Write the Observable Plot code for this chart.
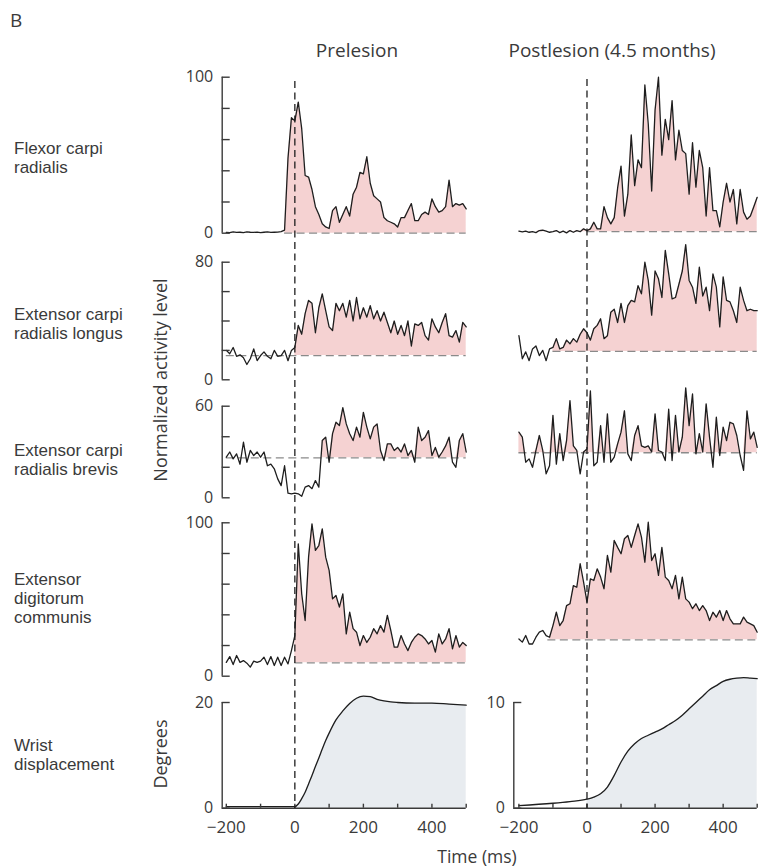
<!DOCTYPE html>
<html><head><meta charset="utf-8">
<script src="https://cdn.jsdelivr.net/npm/d3@7"></script>
<script src="https://cdn.jsdelivr.net/npm/@observablehq/plot@0.6"></script>
<style>
html,body{margin:0;padding:0;background:#fff;}
#fig{position:relative;width:763px;height:868px;overflow:hidden;background:#fff;}
#fig svg{position:absolute;}
.rowlab{position:absolute;left:14px;font-family:'Liberation Sans',Arial,sans-serif;font-weight:400;font-size:17px;line-height:19px;color:#3a3a3a;white-space:nowrap;}
</style></head>
<body><div id="fig"></div>
<script>
// ---------- DATA ----------
const emgTime = d3.range(-200, 501, 10); // sample times (ms)

const fcrPre = [0.5,0.3,0.8,0.5,0.6,0.4,0.8,0.6,0.5,0.7,0.4,0.6,0.8,0.5,0.6,0.7,1.0,2,48,74,
  72,84,67,37,36,28,17,12,6,4,3,14.5,17,7,12,17,11,25,29.5,39,38,49,32,24,22,20,10,8,7,6,4,10,10,14.5,19,8,8,12,13.5,12,22,17,13.5,14.5,17,34,17,19,18,19,15.6];
const fcrPost = [1.3,0.9,1.3,0.6,1,0.4,1.7,1.9,1.3,0.6,1,1.7,0.4,1.3,0.2,1.7,0.6,1.7,1,2.8,
  1.7,2.8,7,2.8,2.8,17,10,6,10,29,43,11,25,63,30.5,47,42,95,70,27,79,100,50,73,60,85,47,66,53,51,25,58,29.5,53,42,11,42,14.5,14.5,4,20,32,20,28,6,28,13.5,9,11,17,23];
const ecrlPre = [20,17.7,22,16,17,15,10.4,14.3,21,13,16.5,19,16,14.3,20,16,16.5,20,13,20,
  22,37,31,45,54,52,32,49,58.5,47,36,33.5,52,47,52,42.6,54,40,56,41.5,49,42.6,50.5,41.5,47,40,46,39,32,40,31,37,30,40,23,38,37,39,30,27,41.5,36,32,39,45,30,29,33.5,25.6,39,36];
const ecrlPost = [30,14.3,19,13,21,23,16.5,20,13,21,22,28,21,22,27,24.5,28,25.6,31,34.7,
  32,27,34.7,37,41.5,28,30,46,48,39,52,39,50.5,54,53,64,58.5,80,67.6,44,74,68.7,56,88,72,55,56,65,74,92,67.6,63,52,76.6,57,63,47,72,63,36,70,54,53,47,39,63,54,47,48,47,47];
const ecrbPre = [26.6,30,25.5,28.8,22,36.4,23.3,31,27.7,30,26.6,30,21,22,19,12.4,8,21,3,2.6,
  3,2.6,1,7,8,6,11.3,7,37.5,39.7,23.3,42,49.5,47.3,59,48.4,42,37.5,46.3,39.7,56,46.3,38.6,46.3,48.4,31,24.4,35.3,35.3,31,33,30,35.3,27.7,31,23.3,46.3,37.5,39.7,44,27.7,33,26.6,30,34,39.7,23.3,20,37.5,42,30];
const ecrbPost = [43,39.7,23.3,25.5,20,31,40.8,31,15.7,21,54,22,42,24.4,37.5,63.7,34,31,15.7,30,
  32,70,21,23.3,47.3,23.3,55,23.3,26.6,35.3,43,57,28.8,24.4,40.8,47.3,34,33,34,30,55,31,30,24.4,58,24.4,54,30,39.7,72,47.3,68,28.8,42,30,61.5,39.7,20,52.8,27.7,46.3,37.5,49.5,48.4,40.8,27.7,18,57,38.6,43,33];
const edcPre = [9,12.8,7.6,13.5,9,10.2,8.5,5.9,9.8,9,9.8,12.4,7.6,12.8,7,12.4,7,12.4,8,16.7,
  26.5,86.3,53.7,36.3,77.6,99.3,82,85.2,96,77.6,69,50.4,52.6,45,53.7,27.6,41.7,31,28.7,20,26.5,22,25.4,31,27.6,33,28.7,39.6,29.8,19,19,26.5,21,16.7,22,25.4,27.6,26.5,24.3,21,23.3,15.7,27.6,21,24.3,31,17.8,26.5,19,22,20];
const edcPost = [24.3,22.2,26.5,21,21,25.4,28.7,29.8,26.5,25.4,33,41.7,33,36.3,46,47.2,59,58,73.3,61.3,
  48.3,63.5,62.4,70,64.6,57,78.7,67.8,88.5,84,79.8,89.6,91.7,84,91.7,99.3,90.7,74.3,100.4,75.4,79.8,65.7,84,64.6,62.4,57,65.7,50.4,64.6,50.4,48.3,44,47.2,42.8,46,42.8,36.3,41.7,38.5,42.8,36.3,42.8,37.4,34.1,34.1,34.1,38.5,35.2,34.1,33,28.7];

const wristPreT = [-200,-100,-50,0,10,20,30,40,50,60,70,80,90,100,120,140,160,180,200,220,240,260,280,300,350,400,450,500];
const wristPreV = [0.3,0.3,0.3,0.3,0.8,1.8,3,4.6,6.2,7.9,9.5,11.2,12.8,14.2,16.7,18.4,19.8,20.8,21.2,21.1,20.6,20.3,20.1,20,19.9,19.9,19.7,19.5];
const wristPostT = [-200,-100,-50,0,20,40,60,80,100,120,140,160,180,200,220,240,260,280,300,320,340,360,380,400,420,440,460,480,500];
const wristPostV = [0.25,0.47,0.63,0.85,1.04,1.36,2.0,3.1,4.37,5.4,6.1,6.6,6.9,7.2,7.5,7.9,8.3,8.8,9.4,10,10.6,11.2,11.6,12.0,12.2,12.3,12.35,12.3,12.25];

const rowNames = [["Flexor carpi","radialis"],["Extensor carpi","radialis longus"],["Extensor carpi","radialis brevis"],["Extensor","digitorum","communis"],["Wrist","displacement"]];
const columnTitles = ["Prelesion","Postlesion (4.5 months)"];
const yMaxRows = [100, 80, 60, 100];
const yTickRows = [[0,20,40,60,80,100],[0,20,40,60,80],[0,20,40,60],[0,20,40,60,80,100]];
const wristMax = [20, 10];
const xTickValues = [-200,-100,0,100,200,300,400,500];
const xTickLabels = [-200,0,200,400];
const baselinePre = [0, 16.5, 26.2, 8.7];
const baselinePost = [1, 19.3, 29.5, 23.7];
const fillFromPre = [-30, 0, 75, 0];
const fillFromPost = [-200, -100, -200, -115];
const dashFromPre = [-30, -200, -200, 0];
const dashFromPost = [0, -100, -200, -115];

// ---------- STYLE / LAYOUT ----------
const FONT = "'Open Sans','Liberation Sans',sans-serif";
const TXT = "#3a3a3a";
const INK = "#1e1e1e";
const AX = "#3a3a3a";
const DASH = "#8a8a8a";
const PINK = "#f5d2d2";
const GREY = "#e8ecf0";
const COLS = [
  {svgX: 170, width: 300, axisX: 221.7, endX: 465.7, domain: [-212, 500], dashTop: 81.5},
  {svgX: 480, width: 283, axisX: 513.3, endX: 756.7, domain: [-215, 500], dashTop: 79}
];
const ROWS = [{top:76.7,bottom:232.7},{top:261.7,bottom:379.3},{top:405.7,bottom:497.3},{top:522.3,bottom:675.7},{top:702,bottom:807.7}];

const fig = document.getElementById("fig");
const svgStyle = {background:"transparent", overflow:"visible", fontFamily: FONT, fontWeight: 400, color: TXT, fontSize: "16px"};

function panel(col, row, o) {
  const svgTop = Math.floor(row.top) - 12;
  const height = Math.ceil(row.bottom) + 12 - svgTop;
  const marks = [];
  marks.push(Plot.areaY(o.series.filter(d => d.t >= o.fillFrom), {x: "t", y1: o.base, y2: d => Math.max(d.v, o.base), fill: o.fill, curve: o.curve}));
  if (o.dashFrom != null) marks.push(Plot.ruleY([o.base], {x1: o.dashFrom, x2: 500, stroke: DASH, strokeWidth: 1.3, strokeDasharray: "8,4.5"}));
  marks.push(Plot.lineY(o.series, {x: "t", y: "v", stroke: INK, strokeWidth: 1.3, strokeLinejoin: "round", curve: o.curve}));
  if (o.showY) {
    marks.push(Plot.ruleX([col.domain[0]], {stroke: AX, strokeWidth: 1.4}));
    marks.push(Plot.axisY(o.yTicks, {tickSize: -8, tickFormat: () => "", stroke: AX, strokeWidth: 1.4, label: null}));
    marks.push(Plot.axisY([0, o.yMax], {tickSize: 0, tickPadding: 9, fontSize: 16, fill: TXT, label: null}));
  }
  if (o.showX) {
    marks.push(Plot.ruleY([0], {stroke: AX, strokeWidth: 1.4}));
    marks.push(Plot.axisX(xTickValues, {tickSize: -4, tickFormat: () => "", stroke: AX, strokeWidth: 1.4, label: null}));
    marks.push(Plot.axisX(xTickLabels, {tickSize: 0, tickPadding: 13, tickFormat: d3.format("d"), fontSize: 17, fill: TXT, label: null}));
  }
  const svg = Plot.plot({
    width: col.width, height,
    marginLeft: col.axisX - col.svgX, marginRight: col.svgX + col.width - col.endX,
    marginTop: row.top - svgTop, marginBottom: svgTop + height - row.bottom,
    x: {domain: col.domain, axis: null},
    y: {domain: [0, o.yMax], axis: null},
    style: svgStyle,
    marks
  });
  svg.style.left = col.svgX + "px";
  svg.style.top = svgTop + "px";
  fig.appendChild(svg);
}

const toSeries = vals => emgTime.map((t, i) => ({t, v: vals[i]}));
const preSets = [fcrPre, ecrlPre, ecrbPre, edcPre];
const postSets = [fcrPost, ecrlPost, ecrbPost, edcPost];
for (let r = 0; r < 4; r++) {
  panel(COLS[0], ROWS[r], {series: toSeries(preSets[r]), base: baselinePre[r], fillFrom: fillFromPre[r], dashFrom: dashFromPre[r],
    yMax: yMaxRows[r], yTicks: yTickRows[r], showY: true, showX: false, fill: PINK, curve: "linear"});
  panel(COLS[1], ROWS[r], {series: toSeries(postSets[r]), base: baselinePost[r], fillFrom: fillFromPost[r], dashFrom: dashFromPost[r],
    yMax: yMaxRows[r], yTicks: yTickRows[r], showY: false, showX: false, fill: PINK, curve: "linear"});
}
panel(COLS[0], ROWS[4], {series: wristPreT.map((t,i)=>({t, v: wristPreV[i]})), base: 0, fillFrom: 0, dashFrom: null,
  yMax: wristMax[0], yTicks: [0, wristMax[0]], showY: true, showX: true, fill: GREY, curve: "monotone-x"});
panel(COLS[1], ROWS[4], {series: wristPostT.map((t,i)=>({t, v: wristPostV[i]})), base: 0, fillFrom: 0, dashFrom: null,
  yMax: wristMax[1], yTicks: [0, wristMax[1]], showY: true, showX: true, fill: GREY, curve: "monotone-x"});

// vertical dashed line at movement onset (t = 0)
for (const col of COLS) {
  const top = Math.floor(col.dashTop);
  const svg = Plot.plot({
    width: col.width, height: 808 - top,
    marginLeft: col.axisX - col.svgX, marginRight: col.svgX + col.width - col.endX, marginTop: 0, marginBottom: 0,
    x: {domain: col.domain, axis: null},
    style: svgStyle,
    marks: [Plot.ruleX([0], {stroke: INK, strokeWidth: 1.3, strokeDasharray: "7,4.5"})]
  });
  svg.style.left = col.svgX + "px";
  svg.style.top = top + "px";
  fig.appendChild(svg);
}

// ---------- TEXT ----------
const lab = d3.select(fig).append("svg").attr("width", 763).attr("height", 868)
  .style("left", "0px").style("top", "0px")
  .attr("font-family", FONT).attr("font-weight", 400).attr("fill", TXT);
lab.append("text").attr("x", 10).attr("y", 26.7).attr("font-size", 19).text("B");
lab.append("text").attr("x", 357).attr("y", 57).attr("font-size", 19).attr("text-anchor", "middle").text(columnTitles[0]);
lab.append("text").attr("x", 612).attr("y", 57).attr("font-size", 19).attr("text-anchor", "middle").text(columnTitles[1]);
lab.append("text").attr("transform", "translate(167,380) rotate(-90)").attr("text-anchor", "middle").attr("font-size", 18).text("Normalized activity level");
lab.append("text").attr("transform", "translate(167,754) rotate(-90)").attr("text-anchor", "middle").attr("font-size", 18).text("Degrees");
lab.append("text").attr("x", 477).attr("y", 862.5).attr("text-anchor", "middle").attr("font-size", 17.5).text("Time (ms)");

// row labels: multi-line HTML blocks, first baseline positioned to match
const rowBaselines = [154.3, 320.7, 456.7, 585, 751];
rowNames.forEach((lines, r) => {
  const div = document.createElement("div");
  div.className = "rowlab";
  div.style.top = (rowBaselines[r] - 15.4) + "px";
  lines.forEach((s, k) => {
    if (k) div.appendChild(document.createElement("br"));
    div.appendChild(document.createTextNode(s));
  });
  fig.appendChild(div);
});
</script></body></html>
